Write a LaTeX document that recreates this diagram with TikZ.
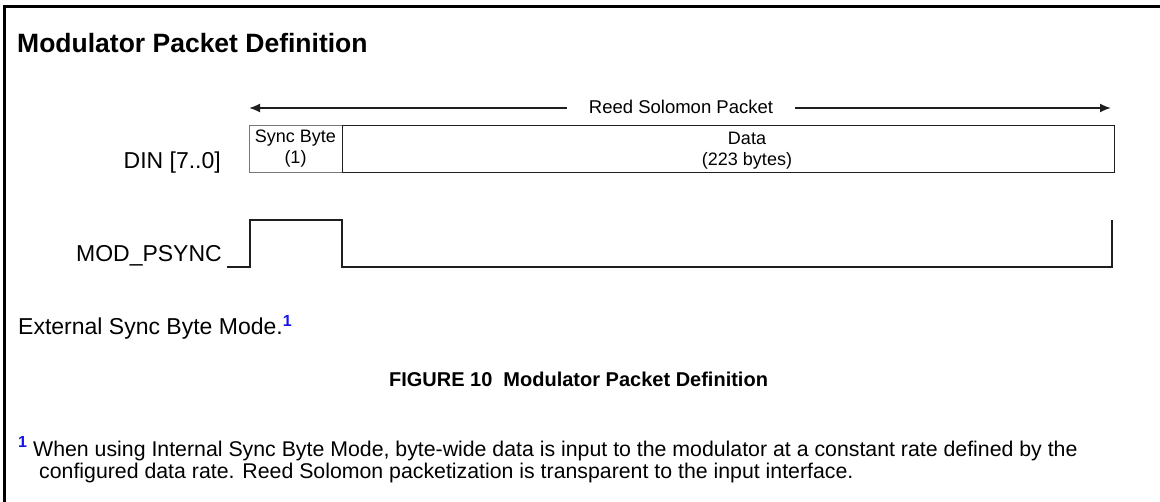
\documentclass[tikz,border=0pt]{standalone}
\usepackage{fontspec}
\setmainfont{Liberation Sans}
\usetikzlibrary{arrows.meta}
\definecolor{footblue}{RGB}{20,20,235}
\definecolor{darkline}{RGB}{30,30,30}
\definecolor{greyline}{RGB}{120,120,120}
\tikzset{
  txt/.style={inner sep=0pt, text=black},
  frameline/.style={line width=3pt, line cap=rect},
  syncbox/.style={draw=greyline, line width=1pt},
  databox/.style={draw=darkline, line width=1.4pt},
  rsarrow/.style={line width=1.8pt, darkline, -{Latex[length=11pt,width=9pt]}},
  wave/.style={line width=1.4pt, darkline, line join=miter},
}
\newcommand{\fsz}[1]{\fontsize{#1}{#1}\selectfont}
\newcommand{\fnmark}{\raisebox{8pt}{\color{footblue}\bfseries\fsz{16}1}}
\begin{document}
\begin{tikzpicture}[x=1pt,y=-1pt]
\useasboundingbox (0,0) rectangle (1160,502);
% frame
\coordinate (fb) at (4,502);
\coordinate (fc) at (4,6.5);
\coordinate (fr) at (1160,6.5);
\draw[frameline] (fb) -- (fc) -- (fr);
% title
\node[txt, anchor=base west, font=\bfseries\fsz{26.5}] (title) at (17,53) {Modulator Packet Definition};
% Reed Solomon arrow
\node[txt, anchor=base, inner xsep=22pt, font=\fsz{18.5}] (rs) at (681,113.5) {Reed Solomon Packet};
\coordinate (rsL) at (249,108);
\coordinate (rsR) at (1111,108);
\draw[rsarrow] (rs.west |- rsL) -- (rsL);
\draw[rsarrow] (rs.east |- rsR) -- (rsR);
% DIN boxes
\node[txt, anchor=base east, font=\fsz{23}] (din) at (221,169) {DIN [7..0]};
\node[syncbox, anchor=north west, minimum width=93pt, minimum height=47pt, inner sep=0pt] (sync) at (249,125) {};
\node[databox, anchor=north west, minimum width=772pt, minimum height=47pt, inner sep=0pt] (data) at (342,125) {};
\node[txt, anchor=base, font=\fsz{18}] (synct) at (295.5,143) {Sync Byte};
\node[txt, anchor=base, font=\fsz{18}] (syncn) at (295.5,164) {(1)};
\node[txt, anchor=base, font=\fsz{18}] (datat) at (747,145) {Data};
\node[txt, anchor=base, font=\fsz{18}] (datan) at (747,166) {(223 bytes)};
% MOD_PSYNC
\node[txt, anchor=base east, font=\fsz{23}] (mod) at (222,262) {MOD\_PSYNC};
\coordinate (w0) at (227,267);
\coordinate (w1) at (250,267);
\coordinate (w2) at (250,220);
\coordinate (w3) at (342,220);
\coordinate (w4) at (342,267);
\coordinate (w5) at (1112,267);
\coordinate (w6) at (1112,220);
\draw[wave] (w0) -- (w1) -- (w2) -- (w3) -- (w4) -- (w5) -- (w6);
% external sync
\node[txt, anchor=base west, font=\fsz{23}] (ext) at (18,335) {External Sync Byte Mode.\fnmark};
% caption
\node[txt, anchor=base, font=\bfseries\fsz{20}] (cap) at (578.5,387) {FIGURE 10\ \ Modulator Packet Definition};
% footnote
\node[txt, anchor=base west, text=footblue, font=\bfseries\fsz{16}] (fn) at (18,448) {1};
\node[txt, anchor=base west, font=\fsz{21.3}] (fn1) at (33,457) {When using Internal Sync Byte Mode, byte-wide data is input to the modulator at a constant rate defined by the};
\node[txt, anchor=base west, font=\fsz{21.3}] (fn2) at (39,479) {configured data rate. Reed Solomon packetization is transparent to the input interface.};
\end{tikzpicture}
\end{document}
